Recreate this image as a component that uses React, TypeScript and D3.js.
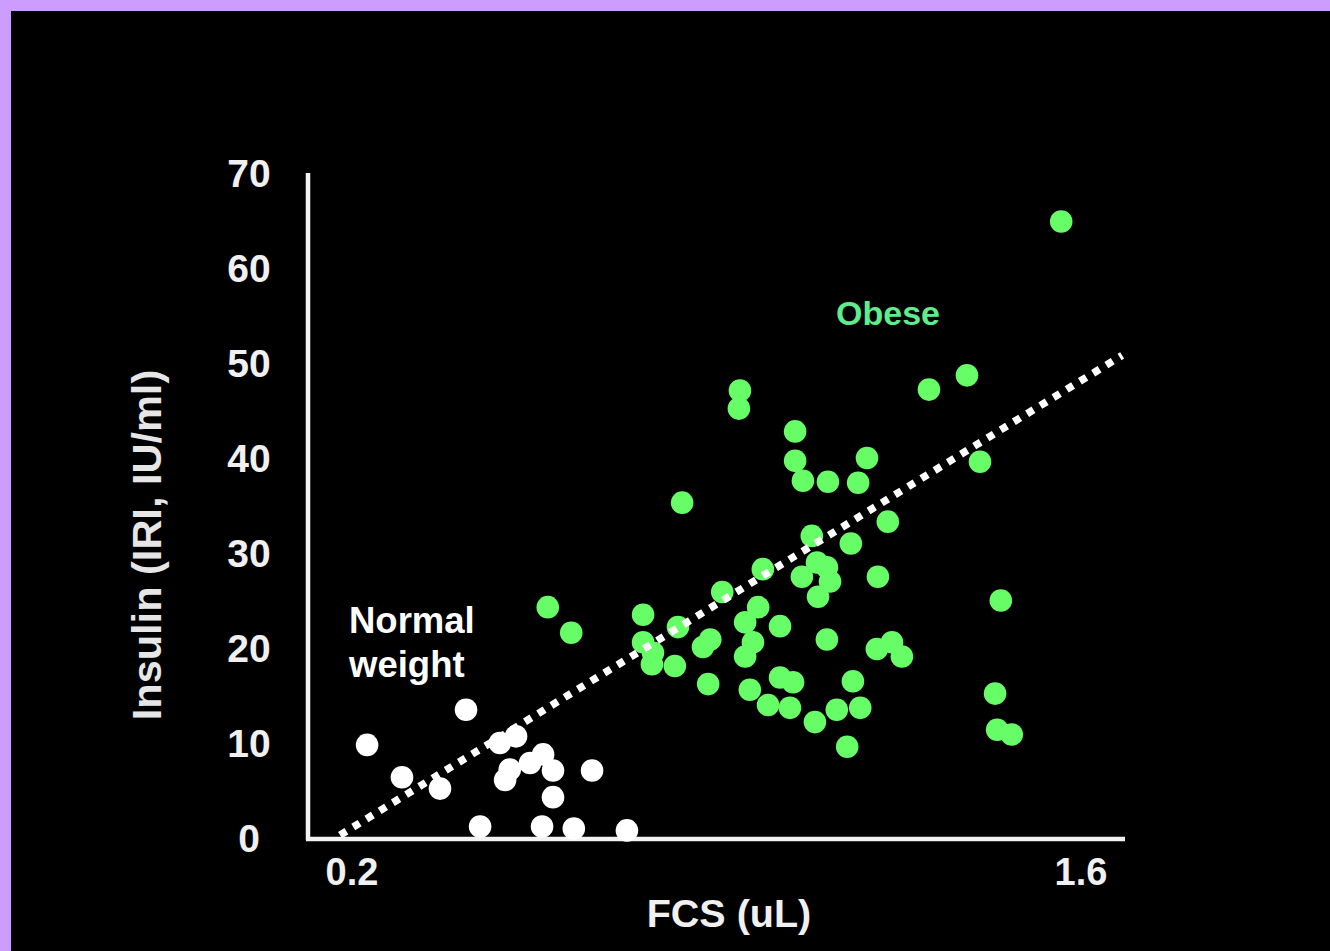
import * as d3 from "d3";

const normalX = [0.229, 0.296, 0.369, 0.419, 0.446, 0.484, 0.515, 0.494, 0.503, 0.542, 0.567, 0.586, 0.586, 0.565, 0.626, 0.661, 0.728];
const normalY = [9.8, 6.4, 5.2, 13.5, 1.2, 10.0, 10.7, 6.1, 7.2, 7.9, 8.8, 7.1, 4.3, 1.2, 1.0, 7.1, 0.8];

const obeseX = [
  0.576, 0.621, 0.759, 0.759, 0.778, 0.776, 0.82, 0.826, 0.834, 0.874, 0.888, 0.884, 0.911, 0.945, 0.943, 0.955,
  0.955, 0.97, 0.964, 0.98, 0.989, 0.999, 1.022, 1.022, 1.047, 1.041, 1.051, 1.051, 1.066, 1.064, 1.083, 1.095,
  1.093, 1.112, 1.118, 1.089, 1.112, 1.114, 1.131, 1.151, 1.158, 1.162, 1.172, 1.176, 1.189, 1.208, 1.21, 1.229,
  1.237, 1.256, 1.308, 1.381, 1.406, 1.446, 1.435, 1.439, 1.467, 1.562,
];
const obeseY = [
  24.3, 21.6, 23.5, 20.6, 19.5, 18.3, 18.1, 22.2, 35.3, 20.1, 20.9, 16.2, 25.9, 47.1, 45.2, 22.7,
  19.1, 20.6, 15.6, 24.3, 28.3, 14.0, 22.3, 16.9, 16.4, 13.7, 42.8, 39.7, 37.6, 27.5, 31.8, 25.4,
  29.0, 28.5, 27.0, 12.2, 20.9, 37.5, 13.5, 9.6, 31.0, 16.5, 37.4, 13.7, 40.0, 19.9, 27.5, 33.3,
  20.6, 19.1, 47.2, 48.7, 39.6, 25.0, 15.2, 11.4, 10.9, 64.9,
];

const trendX = [0.177, 1.679];
const trendY = [0.3, 50.8];

const yTicks = [0, 10, 20, 30, 40, 50, 60, 70];
const xTicks = [0.2, 1.6];

const W = 1330;
const H = 951;
const font = "'Liberation Sans', Arial, Helvetica, sans-serif";

export default function App() {
  const x = d3.scaleLinear().domain([0.2, 1.6]).range([352, 1081]);
  const y = d3.scaleLinear().domain([0, 70]).range([838, 173]);

  const trend = d3
    .line<number>()
    .x((d) => x(d))
    .y((_, i) => y(trendY[i]));

  return (
    <div style={{ position: "absolute", left: 0, top: 0, width: W, height: H }}>
      <svg width={W} height={H} style={{ display: "block" }}>
        <defs>
          <filter id="soft" x="-20%" y="-20%" width="140%" height="140%">
            <feGaussianBlur stdDeviation="0.7" />
          </filter>
        </defs>
        <rect x={0} y={0} width={W} height={H} fill="#cc9cff" />
        <rect x={11} y={11} width={W} height={H} fill="#000" />

        {/* axes */}
        <line x1={308} x2={308} y1={y(70)} y2={840} stroke="#f2f2f2" strokeWidth={4.5} />
        <line x1={306} x2={1125} y1={839} y2={839} stroke="#f2f2f2" strokeWidth={4.5} />

        <g fontFamily={font} fontWeight="bold" fill="#f0f0f0">
          {yTicks.map((t) => (
            <text key={t} x={249} y={y(t)} dy="0.36em" textAnchor="middle" fontSize={39}>
              {t}
            </text>
          ))}
          {xTicks.map((t) => (
            <text key={t} x={x(t)} y={885} textAnchor="middle" fontSize={38}>
              {t}
            </text>
          ))}
          <text x={729} y={927} textAnchor="middle" fontSize={39.5}>
            FCS (uL)
          </text>
          <text
            transform={`translate(161, ${545}) rotate(-90)`}
            textAnchor="middle"
            fontSize={41.5}
            fill="#e6e6e6"
          >
            Insulin (IRI, IU/ml)
          </text>
        </g>

        <g filter="url(#soft)">
          {normalX.map((v, i) => (
            <circle key={"n" + i} cx={x(v)} cy={y(normalY[i])} r={11.3} fill="#ffffff" />
          ))}
          {obeseX.map((v, i) => (
            <circle key={"o" + i} cx={x(v)} cy={y(obeseY[i])} r={11.3} fill="#66fd66" />
          ))}
          <path
            d={trend(trendX) || ""}
            fill="none"
            stroke="#ffffff"
            strokeWidth={7.5}
            strokeDasharray="7.5 8"
          />
        </g>

        <g fontFamily={font} fontWeight="bold">
          <text x={888} y={325} textAnchor="middle" fontSize={34} fill="#5eec8c">
            Obese
          </text>
          <text x={349} y={633} fontSize={36.5} fill="#ffffff">
            Normal
          </text>
          <text x={349} y={677} fontSize={36.5} fill="#ffffff">
            weight
          </text>
        </g>
      </svg>
    </div>
  );
}
